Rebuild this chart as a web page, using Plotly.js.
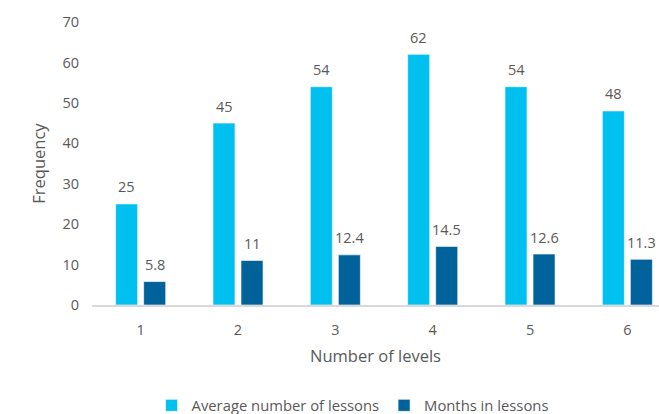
<!DOCTYPE html>
<html><head><meta charset="utf-8">
<script src="https://cdn.plot.ly/plotly-3.0.1.min.js"></script>
<style>html,body{margin:0;padding:0;background:#fff}#chart{width:659px;height:414px}</style>
</head><body><div id="chart"></div>
<script>
const categories = [1, 2, 3, 4, 5, 6];
const avgLessons = [25, 45, 54, 62, 54, 48];
const monthsLessons = [5.8, 11, 12.4, 14.5, 12.6, 11.3];
const seriesNames = ["Average number of lessons", "Months in lessons"];
const yTicks = [0, 10, 20, 30, 40, 50, 60, 70];

const font = "Open Sans, Noto Sans, sans-serif";
const gray = "#595959";

const traces = [
  {type: "bar", x: categories, y: avgLessons, name: seriesNames[0],
   marker: {color: "#00C0F0", line: {color: "rgba(255,255,255,0.6)", width: 1}}},
  {type: "bar", x: categories, y: monthsLessons, name: seriesNames[1],
   marker: {color: "#00629A", line: {color: "rgba(255,255,255,0.6)", width: 1}}}
];

const annotations = [];
[[avgLessons, -14], [monthsLessons, 14]].forEach(([vals, dx]) => {
  vals.forEach((v, i) => annotations.push({
    x: categories[i], y: v, xref: "x", yref: "y", text: String(v), showarrow: false,
    xshift: dx, yshift: 17, xanchor: "center", yanchor: "middle",
    font: {family: font, size: 14.5, color: gray}
  }));
});

const layout = {
  width: 659, height: 414,
  margin: {l: 92, r: 0, t: 22, b: 109},
  paper_bgcolor: "#fff", plot_bgcolor: "#fff",
  font: {family: font, size: 14.5, color: gray},
  barmode: "group", bargap: 0.424, bargroupgap: 0.214,
  annotations: annotations,
  showlegend: true,
  legend: {orientation: "h", xref: "container", yref: "container", x: 0.535, xanchor: "center",
           y: 0.02, yanchor: "middle", font: {family: font, size: 14.8, color: gray}, traceorder: "normal",
           itemwidth: 30},
  xaxis: {type: "linear", range: [0.5, 6.325], tickvals: categories, ticktext: categories.map(String),
          showgrid: false, zeroline: false, showline: true, linecolor: "#D9D9D9", linewidth: 1.5,
          ticks: "", ticklabelstandoff: 11, tickfont: {family: font, size: 14.5, color: gray},
          title: {text: "Number of levels", font: {family: font, size: 16.5, color: gray}, standoff: 12},
          fixedrange: true},
  yaxis: {range: [0, 70], tickvals: yTicks, showgrid: false, zeroline: false, showline: false,
          ticks: "", ticklabelstandoff: 12, tickfont: {family: font, size: 14.5, color: gray},
          title: {text: "Frequency", font: {family: font, size: 16.5, color: gray}, standoff: 12},
          fixedrange: true}
};

Plotly.newPlot("chart", traces, layout, {displayModeBar: false, staticPlot: true});
</script></body></html>
